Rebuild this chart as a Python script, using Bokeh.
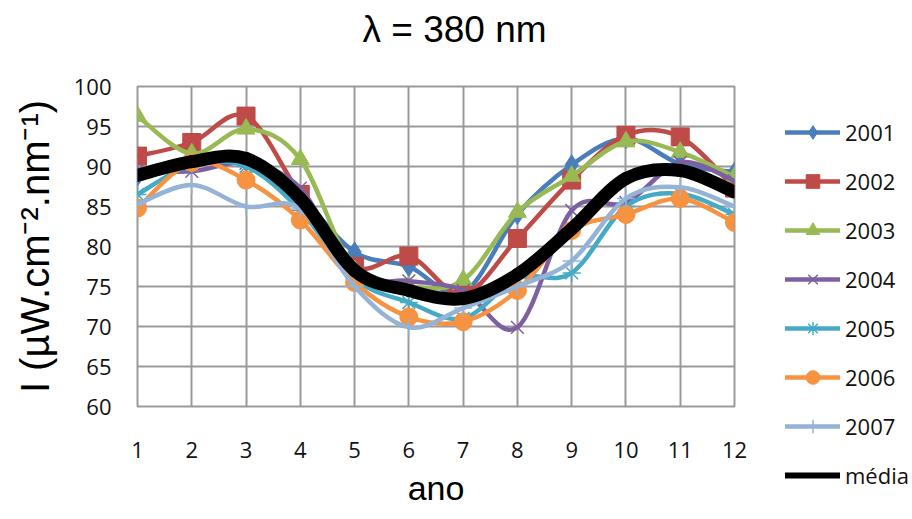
import math
from bokeh.plotting import figure
from bokeh.models import FixedTicker, Legend, LegendItem, ColumnDataSource
from bokeh.embed import file_html
from bokeh.resources import INLINE

months = [1, 2, 3, 4, 5, 6, 7, 8, 9, 10, 11, 12]
y_ticks = [60, 65, 70, 75, 80, 85, 90, 95, 100]

s2001 = [88.8, 90.4, 90.6, 86.2, 79.3, 77.5, 74.2, 84.0, 90.2, 93.5, 90.3, 89.3]
s2002 = [91.3, 93.0, 96.3, 86.5, 77.5, 78.8, 74.0, 81.0, 88.3, 93.9, 93.7, 87.3]
s2003 = [96.3, 91.6, 94.7, 90.9, 77.0, 75.0, 75.8, 84.3, 88.8, 93.1, 91.8, 88.7]
s2004 = [89.5, 89.4, 90.4, 87.3, 76.5, 75.7, 74.5, 69.9, 84.5, 85.5, 90.5, 88.2]
s2005 = [86.5, 90.2, 90.0, 84.5, 76.0, 73.0, 71.0, 76.0, 76.7, 85.0, 86.6, 84.0]
s2006 = [84.8, 90.5, 88.3, 83.3, 75.5, 71.2, 70.6, 74.5, 82.0, 84.0, 86.0, 83.0]
s2007 = [85.3, 87.7, 85.0, 84.7, 75.0, 69.9, 72.3, 75.0, 78.2, 86.0, 87.4, 85.0]
media = [88.9, 90.6, 91.0, 86.0, 77.0, 74.5, 73.5, 76.5, 82.2, 88.5, 89.5, 86.8]

series = [
    ("2001", s2001, "#4A7EBB", "diamond"),
    ("2002", s2002, "#BE4B48", "square"),
    ("2003", s2003, "#98B954", "triangle"),
    ("2004", s2004, "#7D60A0", "x"),
    ("2005", s2005, "#46AAC5", "asterisk"),
    ("2006", s2006, "#F69240", "circle"),
    ("2007", s2007, "#95B3D7", "cross"),
]


def smooth_segments(xs, ys):
    # Catmull-Rom style control points (Excel-like smoothed line)
    n = len(xs)
    d = dict(x0=[], y0=[], x1=[], y1=[], cx0=[], cy0=[], cx1=[], cy1=[])
    for i in range(n - 1):
        a = max(i - 1, 0)
        b = min(i + 2, n - 1)
        d["x0"].append(xs[i]); d["y0"].append(ys[i])
        d["x1"].append(xs[i + 1]); d["y1"].append(ys[i + 1])
        d["cx0"].append(xs[i] + (xs[i + 1] - xs[a]) / 6.0)
        d["cy0"].append(ys[i] + (ys[i + 1] - ys[a]) / 6.0)
        d["cx1"].append(xs[i + 1] - (xs[b] - xs[i]) / 6.0)
        d["cy1"].append(ys[i + 1] - (ys[b] - ys[i]) / 6.0)
    return ColumnDataSource(d)


p = figure(
    frame_width=597, frame_height=320,
    min_border_left=137, min_border_right=170, min_border_top=86, min_border_bottom=100,
    x_range=(1, 12), y_range=(60, 100),
    output_backend="svg", toolbar_location=None,
    background_fill_color="white", border_fill_color="white",
)

p.title.text = "λ = 380 nm\n\u00a0"
p.title.text_font = "Liberation Sans"
p.title.text_font_size = "37px"
p.title.text_font_style = "normal"
p.title.text_color = "black"
p.title.text_line_height = 0.7
p.title.align = "left"
p.title.offset = 225
p.title.vertical_align = "top"
p.title.standoff = 12

p.outline_line_color = "#9a9a9a"
p.outline_line_width = 2

for ax in (p.xaxis[0], p.yaxis[0]):
    ax.axis_line_color = None
    ax.major_tick_line_color = None
    ax.minor_tick_line_color = None
    ax.major_tick_out = 0
    ax.major_tick_in = 0
    ax.major_label_text_font = "Open Sans"
    ax.major_label_text_font_size = "22px"
    ax.major_label_text_color = "#111111"
    ax.axis_label_text_font = "Liberation Sans"
    ax.axis_label_text_font_style = "normal"
    ax.axis_label_text_color = "black"

p.xaxis.ticker = FixedTicker(ticks=months)
p.yaxis.ticker = FixedTicker(ticks=y_ticks)
p.xaxis.major_label_standoff = 35
p.yaxis.major_label_standoff = 26
p.xaxis.axis_label = "ano"
p.xaxis.axis_label_text_font_size = "34px"
p.xaxis.axis_label_standoff = 8
p.yaxis.axis_label = "I (µW.cm⁻².nm⁻¹)"
p.yaxis.axis_label_text_font_size = "40px"
p.yaxis.axis_label_standoff = 14

p.xgrid.grid_line_color = "#9a9a9a"
p.ygrid.grid_line_color = "#9a9a9a"
p.xgrid.grid_line_width = 2
p.ygrid.grid_line_width = 2

items = []
for name, vals, color, marker in series:
    src = smooth_segments(months, vals)
    r_line = p.bezier(x0="x0", y0="y0", x1="x1", y1="y1", cx0="cx0", cy0="cy0",
                      cx1="cx1", cy1="cy1", source=src, line_color=color,
                      line_width=4.5, line_cap="round")
    if marker in ("x", "asterisk", "cross"):
        r_mark = p.scatter(months, vals, marker=marker, size=18, line_color=color,
                           line_width=1.5, fill_color=color)
    else:
        size = 18 if marker != "diamond" else 20
        r_mark = p.scatter(months, vals, marker=marker, size=size, line_color=color,
                           fill_color=color, line_width=1)
    items.append(LegendItem(label=name, renderers=[r_line, r_mark]))

src_m = smooth_segments(months, media)
r_media = p.bezier(x0="x0", y0="y0", x1="x1", y1="y1", cx0="cx0", cy0="cy0",
                   cx1="cx1", cy1="cy1", source=src_m, line_color="black",
                   line_width=13, line_cap="round")
r_media_leg = p.line(x=[float("nan")], y=[float("nan")], line_color="black",
                     line_width=6, line_cap="round")
items.append(LegendItem(label="média", renderers=[r_media_leg]))

legend = Legend(items=items, location=(51, -86), orientation="vertical")
legend.border_line_color = None
legend.background_fill_alpha = 0
legend.padding = 0
legend.margin = 0
legend.glyph_width = 55
legend.glyph_height = 34
legend.label_height = 34
legend.spacing = 15
legend.label_standoff = 5
legend.label_text_font = "Open Sans"
legend.label_text_font_size = "22px"
legend.label_text_color = "#111111"
p.add_layout(legend, "right")

open("out.html", "w").write(file_html(p, INLINE))
